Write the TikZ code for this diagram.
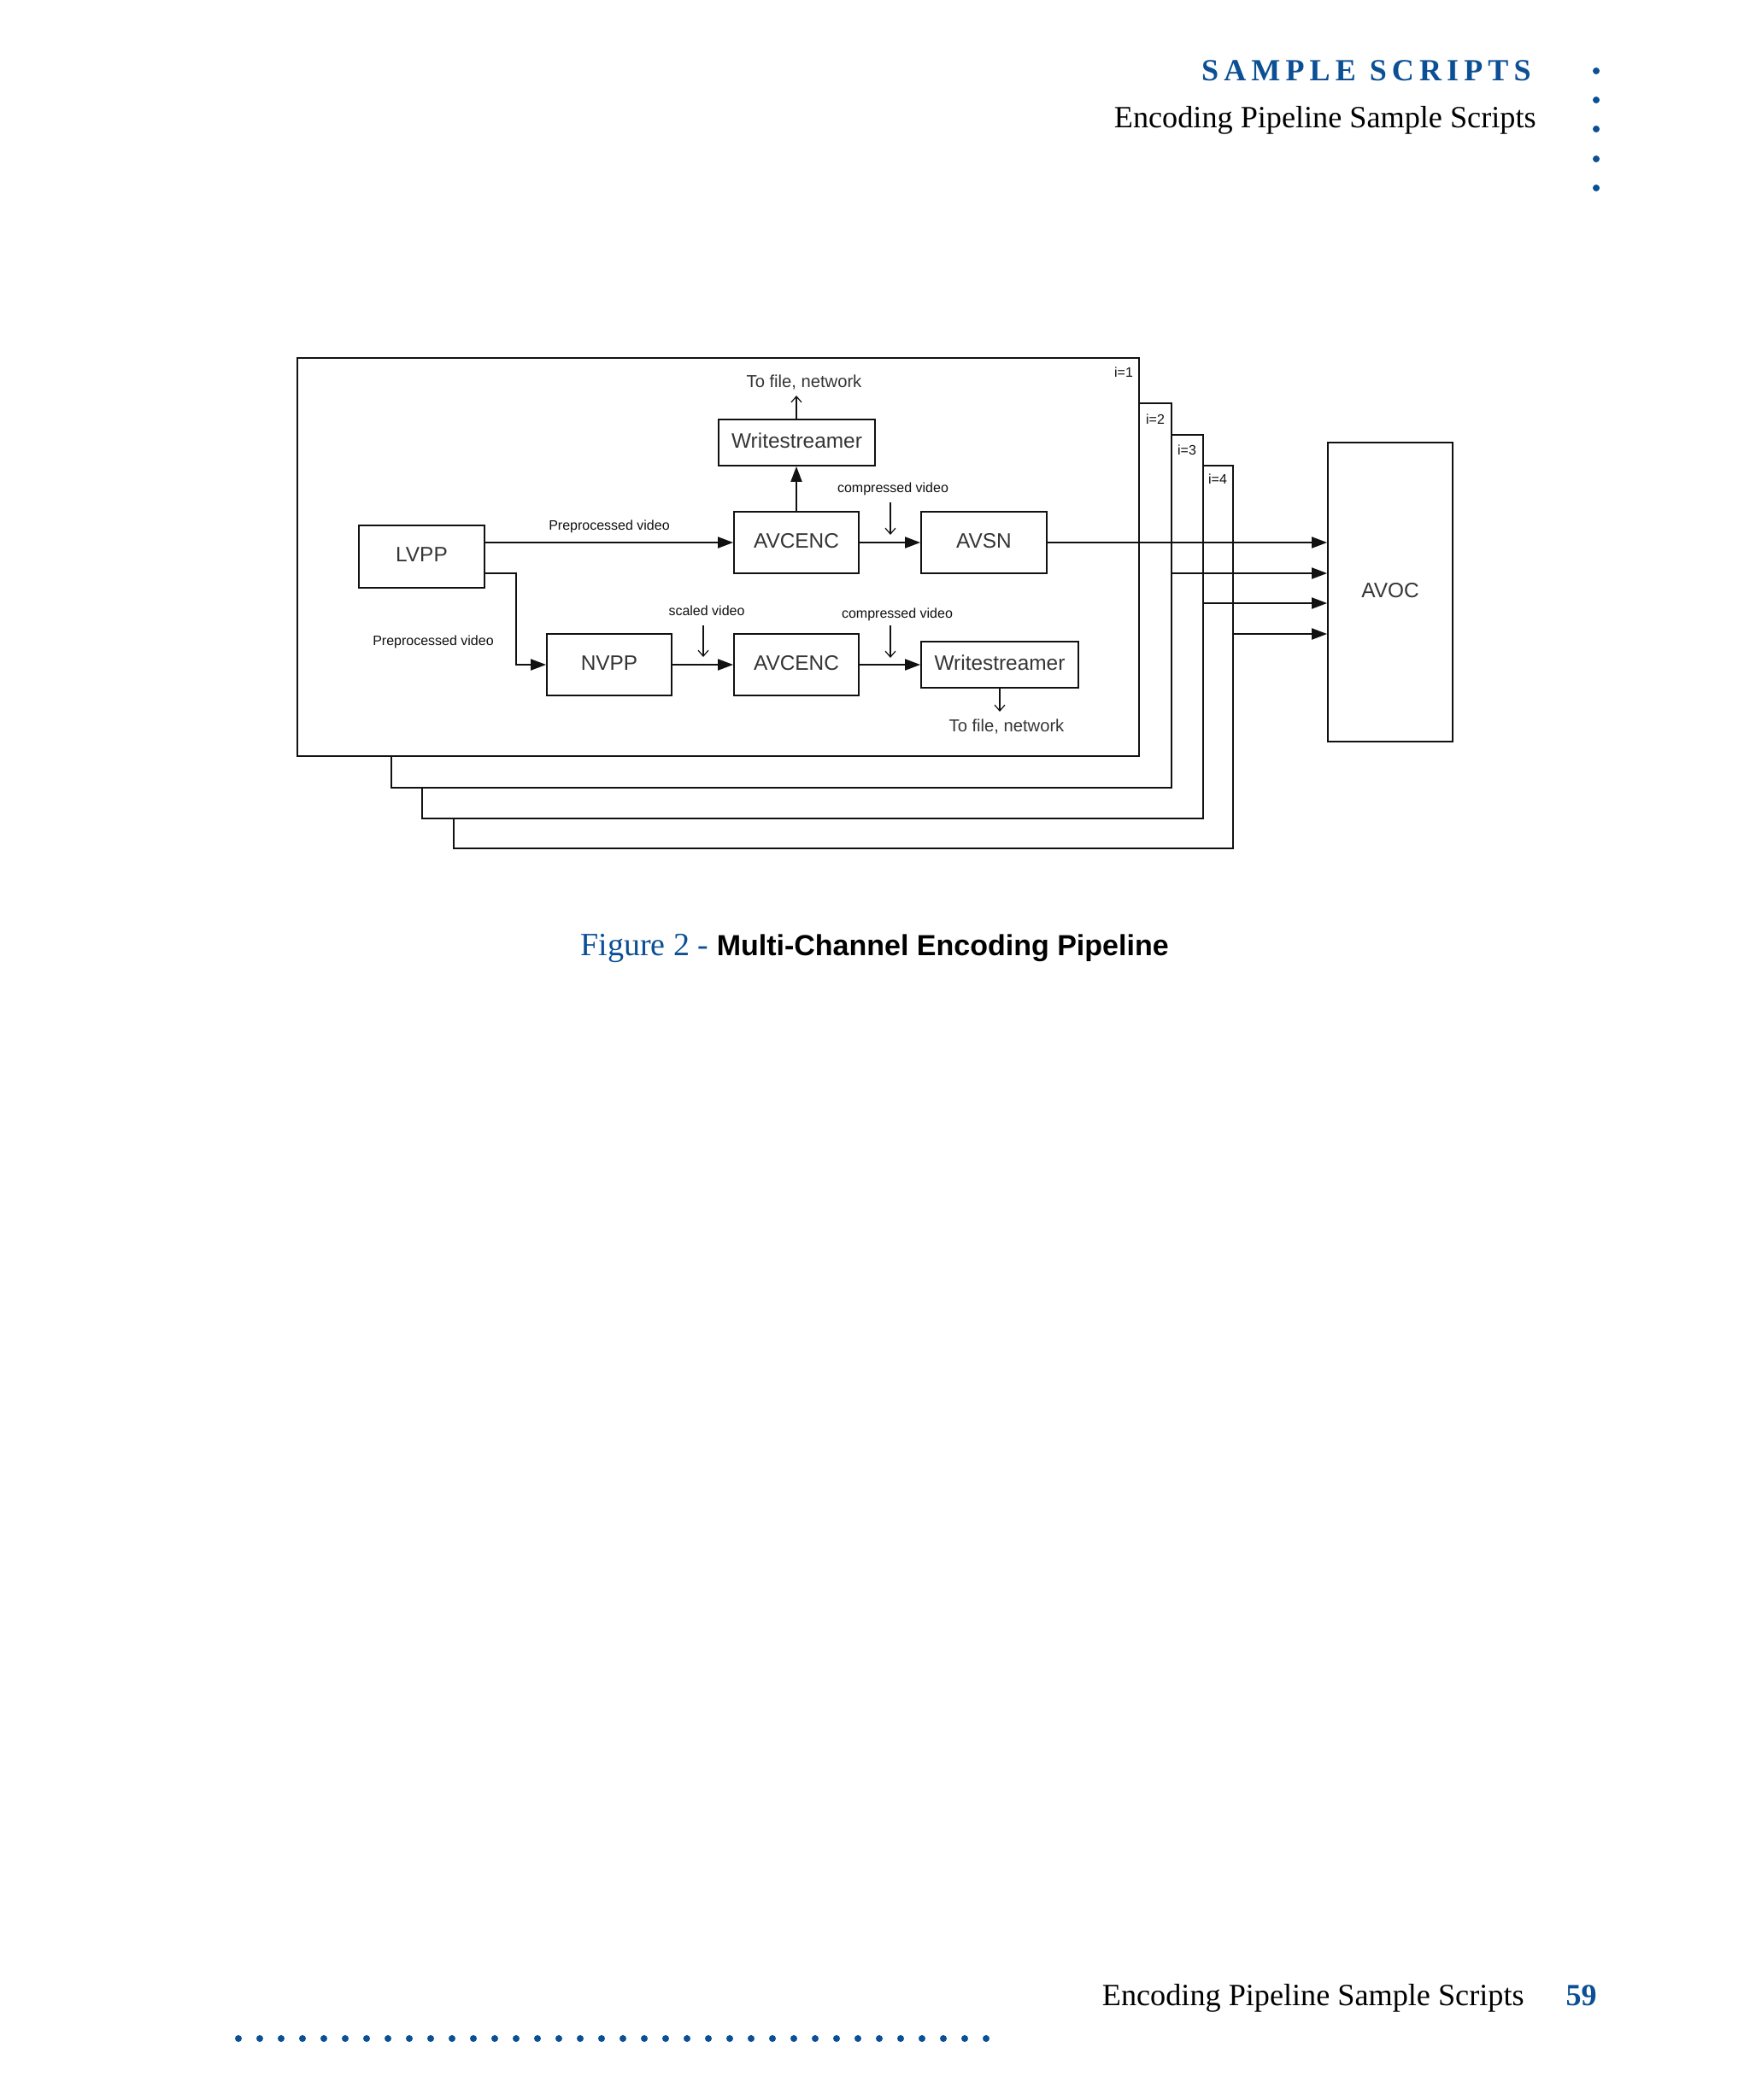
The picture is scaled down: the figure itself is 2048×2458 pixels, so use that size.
\documentclass[tikz,border=0pt]{standalone}
\usepackage{fontspec}
\setmainfont{Liberation Serif}
\setsansfont{Liberation Sans}
\usetikzlibrary{arrows.meta,fit}
\definecolor{pageblue}{HTML}{0B4F94}
\definecolor{ink}{HTML}{111111}
\tikzset{
  frameline/.style={draw=ink,line width=0.9pt,fill=white,inner sep=0pt},
  blockbox/.style={draw=ink,line width=0.9pt,fill=white,inner sep=0pt,
    label={[blocktext]center:#1}},
  blocktext/.style={font=\sffamily\fontsize{12.2}{14}\selectfont,text=ink!85,yshift=1pt},
  smalltext/.style={font=\sffamily\fontsize{8}{10}\selectfont,text=ink,inner sep=0pt},
  outtext/.style={font=\sffamily\fontsize{10.1}{12}\selectfont,text=ink!85,inner sep=0pt},
  flow/.style={draw=ink,line width=1pt,-{Triangle[length=9pt,width=6.5pt]}},
  openflow/.style={draw=ink,line width=0.6pt,-{Straight Barb[length=3.5pt,width=6pt]}},
  pagedot/.style={fill=pageblue,draw=none},
  headtext/.style={inner sep=0pt,anchor=base east}
}
\begin{document}
\begin{tikzpicture}[x=0.5pt,y=-0.5pt]
\useasboundingbox (0,0) rectangle (2048,2458);
\fill[white] (0,0) rectangle (2048,2458);

% page header
\node[headtext,text=pageblue,font=\rmfamily\bfseries\fontsize{18}{20}\selectfont\addfontfeatures{LetterSpace=17}] (head1) at (1792,94) {SAMPLE\hspace{8pt}SCRIPTS};
\node[headtext,font=\rmfamily\fontsize{18.1}{22}\selectfont] (head2) at (1798,149) {Encoding Pipeline Sample Scripts};
\foreach \yy in {83,117,151,186,220} \fill[pagedot] (1868,\yy) circle (4);

% stacked frames
\node[frameline,fit={(531,545)(1443,993)}] (f4) {};
\node[frameline,fit={(494,509)(1408,958)}] (f3) {};
\node[frameline,fit={(458,472)(1371,922)}] (f2) {};
\node[frameline,fit={(348,419)(1333,885)}] (f1) {};
\node[smalltext] (i1) at (1315,436) {i=1};
\node[smalltext] (i2) at (1352,491) {i=2};
\node[smalltext] (i3) at (1389,527) {i=3};
\node[smalltext] (i4) at (1425,561) {i=4};

% blocks
\node[blockbox=LVPP,fit={(420,615)(567,688)}] (lvpp) {};
\node[blockbox=Writestreamer,fit={(841,491)(1024,545)}] (ws1) {};
\node[blockbox=AVCENC,fit={(859,599)(1005,671)}] (enc1) {};
\node[blockbox=AVSN,fit={(1078,599)(1225,671)}] (avsn) {};
\node[blockbox=NVPP,fit={(640,742)(786,814)}] (nvpp) {};
\node[blockbox=AVCENC,fit={(859,742)(1005,814)}] (enc2) {};
\node[blockbox=Writestreamer,fit={(1078,751)(1262,805)}] (ws2) {};
\node[blockbox=AVOC,fit={(1554,518)(1700,868)}] (avoc) {};

% labels
\node[outtext] (tofile1) at (941,447) {To file, network};
\node[outtext] (tofile2) at (1178,850) {To file, network};
\node[smalltext] (pre1) at (713,616) {Preprocessed video};
\node[smalltext] (pre2) at (507,751) {Preprocessed video};
\node[smalltext] (scaled) at (827,715) {scaled video};
\node[smalltext] (comp1) at (1045,572) {compressed video};
\node[smalltext] (comp2) at (1050,719) {compressed video};

% free ends
\coordinate (up1) at (932,463);
\coordinate (down2) at (1170,833);
\coordinate (lvout) at (567,671);
\coordinate (bend) at (604,671);
\coordinate (out2) at (1371,671);
\coordinate (out3) at (1408,706);
\coordinate (out4) at (1443,742);
\coordinate (sa) at (823,732);
\coordinate (sb) at (823,769);
\coordinate (ca) at (1042,588);
\coordinate (cb) at (1042,626);
\coordinate (da) at (1042,732);
\coordinate (db) at (1042,770);

% connectors
\draw[flow] (lvpp.east |- enc1.center) -- (enc1.west);
\draw[flow] (lvout) -- (bend) |- (nvpp.west);
\draw[flow] (enc1.north) -- (enc1.north |- ws1.south);
\draw[openflow] (up1 |- ws1.north) -- (up1);
\draw[flow] (enc1.east) -- (enc1.east -| avsn.west);
\draw[flow] (nvpp.east) -- (enc2.west);
\draw[flow] (enc2.east) -- (ws2.west);
\draw[openflow] (ws2.south) -- (down2);
\draw[flow] (avsn.east) -- (avsn.east -| avoc.west);
\draw[flow] (out2) -- (out2 -| avoc.west);
\draw[flow] (out3) -- (out3 -| avoc.west);
\draw[flow] (out4) -- (out4 -| avoc.west);
\draw[openflow] (sa) -- (sb);
\draw[openflow] (ca) -- (cb);
\draw[openflow] (da) -- (db);

% caption
\node[anchor=base west,inner sep=0pt] (caption) at (679,1118) {\color{pageblue}\rmfamily\fontsize{19}{22}\selectfont Figure 2 - \color{black}\sffamily\bfseries\fontsize{17}{20}\selectfont Multi-Channel Encoding Pipeline};

% page footer
\node[headtext,font=\rmfamily\fontsize{18.1}{22}\selectfont] (foot) at (1784,2347) {Encoding Pipeline Sample Scripts};
\node[headtext,text=pageblue,font=\rmfamily\bfseries\fontsize{18}{22}\selectfont] (page) at (1869,2347) {59};
\foreach \i in {0,...,35} \fill[pagedot] (279+25*\i,2386) circle (4);
\end{tikzpicture}
\end{document}
